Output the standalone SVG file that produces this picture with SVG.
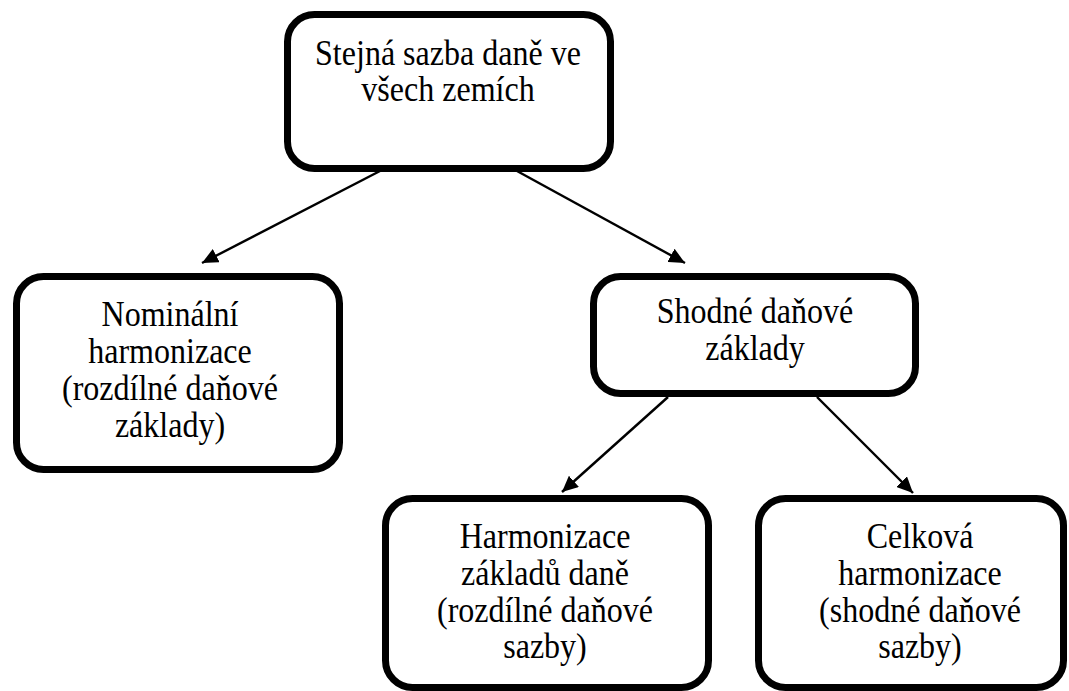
<svg xmlns="http://www.w3.org/2000/svg" width="1069" height="691" viewBox="0 0 1069 691">
<defs>
<style>
.box{fill:#fff;stroke:#000;stroke-width:7}
.t{font-family:"Liberation Serif","Times New Roman",serif;font-size:36px;fill:#000;text-anchor:middle}
.c{stroke:#000;stroke-width:2.4;fill:none;marker-end:url(#ah)}
</style>
<marker id="ah" markerUnits="userSpaceOnUse" markerWidth="17" markerHeight="15" refX="16" refY="7.5" orient="auto">
<path d="M0,0 L16,7.5 L0,15 Z" fill="#000"/>
</marker>
</defs>
<rect width="1069" height="691" fill="#fff"/>
<g id="connectors">
<line class="c" x1="380" y1="171" x2="202" y2="263"/>
<line class="c" x1="517" y1="171" x2="685" y2="263"/>
<line class="c" x1="668" y1="397" x2="562" y2="492"/>
<line class="c" x1="817" y1="397" x2="913" y2="493"/>
</g>
<g id="n-top">
<rect class="box" x="287.5" y="14.5" width="323" height="154" rx="27"/>
<g transform="translate(448 0) scale(0.89 1)">
<text class="t" x="0" y="65">Stejná sazba daně ve</text>
<text class="t" x="0" y="101">všech zemích</text>
</g>
</g>
<g id="n-nominal">
<rect class="box" x="16.5" y="276.5" width="323" height="193" rx="27"/>
<g transform="translate(170 0) scale(0.89 1)">
<text class="t" x="0" y="326">Nominální</text>
<text class="t" x="0" y="363">harmonizace</text>
<text class="t" x="0" y="400">(rozdílné daňové</text>
<text class="t" x="0" y="437">základy)</text>
</g>
</g>
<g id="n-shodne">
<rect class="box" x="593.5" y="276.5" width="322" height="117" rx="27"/>
<g transform="translate(755 0) scale(0.89 1)">
<text class="t" x="0" y="323">Shodné daňové</text>
<text class="t" x="0" y="360">základy</text>
</g>
</g>
<g id="n-harm">
<rect class="box" x="385.5" y="498.5" width="323" height="189" rx="27"/>
<g transform="translate(545 0) scale(0.89 1)">
<text class="t" x="0" y="548">Harmonizace</text>
<text class="t" x="0" y="585">základů daně</text>
<text class="t" x="0" y="622">(rozdílné daňové</text>
<text class="t" x="0" y="658">sazby)</text>
</g>
</g>
<g id="n-celkova">
<rect class="box" x="758.5" y="498.5" width="305" height="189" rx="27"/>
<g transform="translate(920 0) scale(0.89 1)">
<text class="t" x="0" y="548">Celková</text>
<text class="t" x="0" y="585">harmonizace</text>
<text class="t" x="0" y="622">(shodné daňové</text>
<text class="t" x="0" y="658">sazby)</text>
</g>
</g>
</svg>
